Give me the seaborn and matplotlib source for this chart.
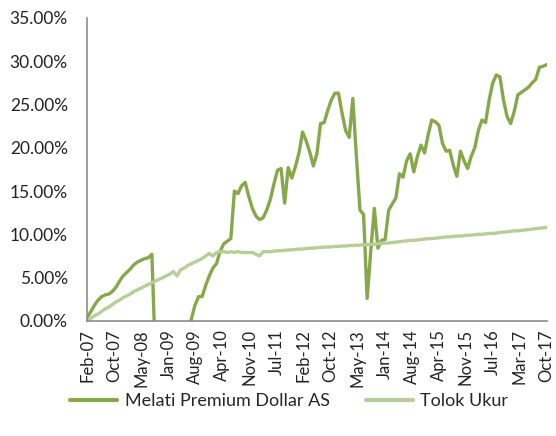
import numpy as np
import pandas as pd
import seaborn as sns
import matplotlib.pyplot as plt
from matplotlib.ticker import PercentFormatter

tick_labels = ["Feb-07", "Oct-07", "May-08", "Jan-09", "Aug-09", "Apr-10", "Nov-10",
               "Jul-11", "Feb-12", "Oct-12", "May-13", "Jan-14", "Aug-14", "Apr-15",
               "Nov-15", "Jul-16", "Mar-17", "Oct-17"]

# monthly returns (%), Feb-07 .. Oct-17
melati = [0.4, 1.1, 1.8, 2.4, 2.8, 3.0, 3.1, 3.4, 3.9, 4.6,
          5.2, 5.6, 6.0, 6.5, 6.8, 7.0, 7.2, 7.3, 7.7, -4.5,
          -8, -10, -12, -11, -9, -7, -5, -3.5, -1.5, 0.2,
          1.8, 2.8, 2.8, 4.1, 5.2, 6.1, 6.6, 8.0, 8.9, 9.2,
          9.5, 15.0, 14.7, 15.6, 16.0, 14.4, 13.0, 12.1, 11.7, 11.9,
          12.8, 14.0, 15.8, 17.4, 17.6, 13.6, 17.7, 16.5, 17.8, 19.4,
          21.8, 20.8, 19.5, 17.9, 19.3, 22.8, 22.9, 24.3, 25.5, 26.3,
          26.3, 24.0, 22.0, 21.2, 25.7, 19.0, 12.8, 12.3, 2.6, 8.0,
          13.0, 8.4, 9.3, 9.4, 12.8, 13.5, 14.2, 17.0, 16.6, 18.5,
          19.3, 17.2, 19.0, 20.3, 19.4, 21.5, 23.2, 23.0, 22.6, 20.5,
          19.6, 19.7, 18.0, 16.7, 19.6, 18.5, 17.6, 19.0, 20.0, 22.0,
          23.2, 22.9, 25.5, 27.5, 28.4, 28.2, 25.5, 23.6, 22.8, 24.2,
          26.1, 26.4, 26.7, 27.0, 27.5, 27.9, 29.3, 29.4, 29.6]

tolok = [0.0, 0.3, 0.6, 0.8, 1.1, 1.4, 1.6, 1.9, 2.2, 2.4,
         2.7, 2.9, 3.1, 3.4, 3.6, 3.8, 4.0, 4.2, 4.4, 4.6,
         4.8, 5.0, 5.2, 5.4, 5.7, 5.2, 5.9, 6.1, 6.4, 6.6,
         6.8, 7.0, 7.2, 7.5, 7.8, 7.5, 7.9, 8.0, 8.0, 7.9,
         8.0, 7.9, 8.0, 7.9, 7.9, 7.9, 7.9, 7.7, 7.5, 8.0,
         8.0, 8.0, 8.05, 8.1, 8.1, 8.15, 8.2, 8.2, 8.25, 8.3,
         8.3, 8.35, 8.4, 8.4, 8.45, 8.5, 8.5, 8.55, 8.55, 8.6,
         8.6, 8.65, 8.65, 8.7, 8.7, 8.75, 8.75, 8.8, 8.8, 8.85,
         8.85, 8.9, 8.95, 9.0, 9.0, 9.05, 9.1, 9.15, 9.2, 9.25,
         9.3, 9.3, 9.35, 9.4, 9.45, 9.5, 9.5, 9.55, 9.6, 9.65,
         9.7, 9.7, 9.75, 9.8, 9.8, 9.85, 9.9, 9.9, 9.95, 10.0,
         10.0, 10.05, 10.1, 10.1, 10.15, 10.2, 10.25, 10.3, 10.35, 10.4,
         10.4, 10.45, 10.5, 10.55, 10.6, 10.65, 10.7, 10.75, 10.8]

names = ["Melati Premium Dollar AS", "Tolok Ukur"]
colors = ["#86A84A", "#B7CE96"]

month = np.arange(len(melati))
df = pd.DataFrame({"month": np.concatenate([month, month]),
                   "value": melati + tolok,
                   "series": [names[0]] * len(melati) + [names[1]] * len(tolok)})

sns.set_style("white")
plt.rcParams['font.family'] = ['Lato', 'DejaVu Sans']

fig = plt.figure(figsize=(5.56, 4.36), dpi=100)
ax = fig.add_axes([0.157, 0.264, 0.826, 0.695])
sns.lineplot(data=df, x="month", y="value", hue="series", palette=colors,
             linewidth=2.4, ax=ax, legend=False)

ax.set_ylim(0, 35)
ax.set_xlim(0, len(melati) - 1)
ax.set_yticks(np.arange(0, 36, 5))
ax.yaxis.set_major_formatter(PercentFormatter(decimals=2))
ax.set_xticks(np.linspace(0, len(melati) - 1, len(tick_labels)))
ax.set_xticklabels(tick_labels, rotation=90)
ax.tick_params(axis="both", length=0, colors="#222222")
ax.tick_params(axis="y", pad=14, labelsize=12.5)
ax.tick_params(axis="x", pad=6, labelsize=12)
ax.set_xlabel("")
ax.set_ylabel("")
for s in ["top", "right"]:
    ax.spines[s].set_visible(False)
for s in ["left", "bottom"]:
    ax.spines[s].set_color("#8c8c8c")
    ax.spines[s].set_linewidth(1.2)

handles = [plt.Line2D([], [], color=c, linewidth=3) for c in colors]
fig.legend(handles, names, loc="center", bbox_to_anchor=(0.52, 0.08), ncol=2,
           frameon=False, fontsize=13, handlelength=2.6, columnspacing=2.0,
           handletextpad=0.4)

fig.savefig("out.png", dpi=100)
